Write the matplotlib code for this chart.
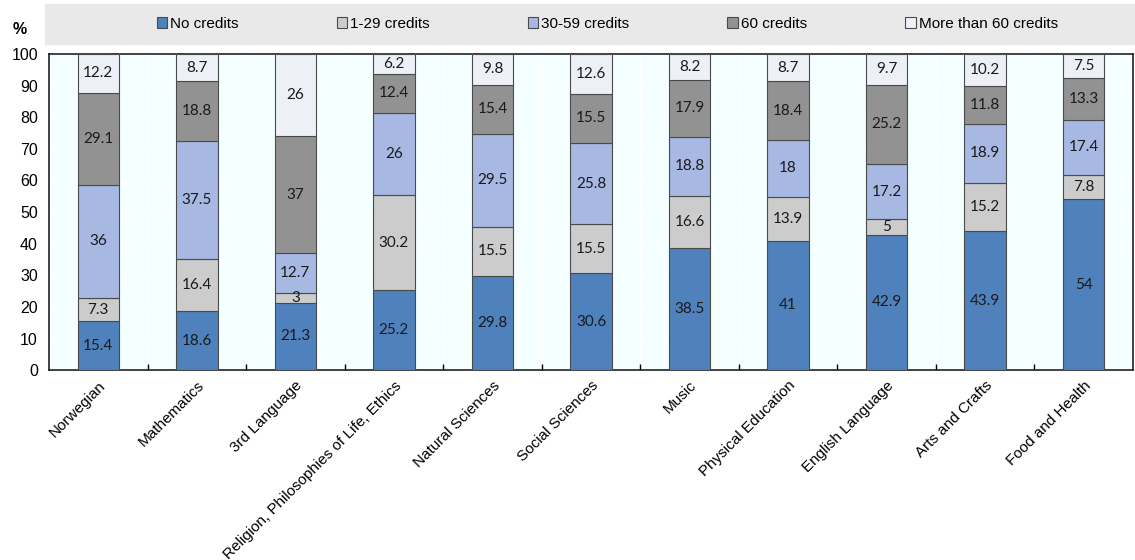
import numpy as np
import matplotlib.pyplot as plt
from matplotlib.patches import Rectangle

subjects = ['Norwegian', 'Mathematics', '3rd Language',
            'Religion, Philosophies of Life, Ethics', 'Natural Sciences',
            'Social Sciences', 'Music', 'Physical Education',
            'English Language', 'Arts and Crafts', 'Food and Health']
no_credits = [15.4, 18.6, 21.3, 25.2, 29.8, 30.6, 38.5, 41, 42.9, 43.9, 54]
c1_29 = [7.3, 16.4, 3, 30.2, 15.5, 15.5, 16.6, 13.9, 5, 15.2, 7.8]
c30_59 = [36, 37.5, 12.7, 26, 29.5, 25.8, 18.8, 18, 17.2, 18.9, 17.4]
c60 = [29.1, 18.8, 37, 12.4, 15.4, 15.5, 17.9, 18.4, 25.2, 11.8, 13.3]
c60_plus = [12.2, 8.7, 26, 6.2, 9.8, 12.6, 8.2, 8.7, 9.7, 10.2, 7.5]

series = [no_credits, c1_29, c30_59, c60, c60_plus]
names = ['No credits', '1-29 credits', '30-59 credits', '60 credits',
         'More than 60 credits']
colors = ['#4F81BD', '#CCCCCC', '#A7B9E3', '#929292', '#EEF0F8']

plt.rcParams['font.family'] = ['Liberation Sans', 'DejaVu Sans']

fig = plt.figure(figsize=(11.35, 5.6), dpi=100)
ax = fig.add_axes([0.0432, 0.339, 0.955, 0.5646])
ax.set_facecolor('#F4FFFF')

x = np.arange(len(subjects))
bottom = np.zeros(len(subjects))
handles = []
for vals, name, col in zip(series, names, colors):
    vals = np.array(vals, dtype=float)
    bars = ax.bar(x, vals, 0.42, bottom=bottom, color=col,
                  edgecolor='#4a4a4a', linewidth=0.8, label=name, zorder=3)
    handles.append(bars)
    for xi, b, v in zip(x, bottom, vals):
        ax.text(xi, b + v / 2, f'{v:g}', ha='center', va='center',
                fontsize=11, color='#1a1a1a', family=['Lato', 'DejaVu Sans'],
                zorder=4)
    bottom += vals

ax.set_xlim(-0.5, len(subjects) - 0.5)
ax.set_ylim(0, 100)
ax.set_yticks(range(0, 101, 10))
ax.tick_params(axis='y', length=0, labelsize=11.5, pad=8)
ax.set_xticks(x)
ax.set_xticklabels(subjects, rotation=45, ha='right', rotation_mode='anchor',
                   fontsize=11)
ax.tick_params(axis='x', length=0, pad=6)
ax.set_xticks(np.arange(0.5, len(subjects) - 1, 1), minor=True)
ax.tick_params(axis='x', which='minor', direction='in', length=4, width=1)
ax.grid(True, which='minor', axis='x', color='white', linewidth=1, zorder=0)
ax.grid(True, which='major', axis='y', color='white', linewidth=1, zorder=0)
ax.set_axisbelow(True)
for s in ax.spines.values():
    s.set_color('#222222')
    s.set_linewidth(1.2)

# legend band across the top
fig.patches.append(Rectangle((45 / 1135, 1 - 44 / 560), 1 - 45 / 1135, 40 / 560,
                             transform=fig.transFigure, color='#E9E9E9',
                             zorder=0))
fig.legend(handles=handles, labels=names, loc='center', ncol=5,
           bbox_to_anchor=(0.535, 1 - 24 / 560), frameon=False, fontsize=11,
           handlelength=0.7, handleheight=0.7, handletextpad=0.2,
           columnspacing=6.4)
fig.text(20 / 1135, 1 - 30 / 560, '%', fontsize=11.5, fontweight='bold',
         ha='center', va='center')

fig.savefig('out.png', dpi=100)
